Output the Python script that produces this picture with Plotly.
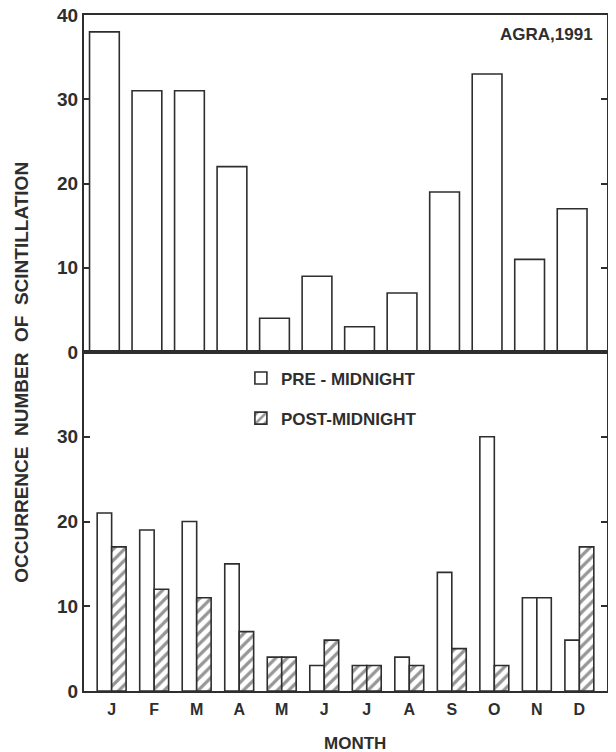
import plotly.graph_objects as go

# ---- data ----
month_labels = ["J", "F", "M", "A", "M", "J", "J", "A", "S", "O", "N", "D"]
month_pos = list(range(12))
total_counts = [38, 31, 31, 22, 4, 9, 3, 7, 19, 33, 11, 17]
pre_midnight = [21, 19, 20, 15, 4, 3, 3, 4, 14, 30, 11, 6]
post_midnight = [17, 12, 11, 7, 4, 6, 3, 3, 5, 3, 11, 17]
# hatch style of each drawn bar as it appears in the original figure
pre_hatch = ["", "", "", "", "/", "", "/", "", "", "", "", ""]
post_hatch = ["/", "/", "/", "/", "/", "/", "/", "/", "/", "/", "", "/"]
top_ticks = [0, 10, 20, 30, 40]
bottom_ticks = [0, 10, 20, 30]

INK = "#2e2e2e"
FONT = "Liberation Sans"

fig = go.Figure()

fig.add_trace(go.Bar(
    x=month_pos, y=total_counts, xaxis="x", yaxis="y",
    marker=dict(color="white", line=dict(color=INK, width=1.6)),
    showlegend=False, width=0.7,
))

fig.add_trace(go.Bar(
    x=month_pos, y=pre_midnight, xaxis="x2", yaxis="y2",
    name="PRE - MIDNIGHT", legendgroup="pre",
    marker=dict(color="white", line=dict(color=INK, width=1.6),
                pattern=dict(shape=pre_hatch, fgcolor=INK, bgcolor="white",
                             size=8, solidity=0.4)),
    offsetgroup="pre",
))
fig.add_trace(go.Bar(
    x=month_pos, y=post_midnight, xaxis="x2", yaxis="y2",
    name="POST-MIDNIGHT", legendgroup="post",
    marker=dict(color="white", line=dict(color=INK, width=1.6),
                pattern=dict(shape=post_hatch, fgcolor=INK, bgcolor="white",
                             size=8, solidity=0.4)),
    offsetgroup="post",
))

axis_common = dict(showline=True, linecolor=INK, linewidth=2, mirror="ticks",
                   showgrid=False, zeroline=False, automargin=False)

split = 339 / 676

fig.update_layout(
    width=608, height=744,
    margin=dict(l=76, r=9, t=7, b=61),
    paper_bgcolor="white", plot_bgcolor="white",
    barmode="group", bargap=0.32, bargroupgap=0,
    font=dict(family=FONT, color=INK, size=16, weight="bold"),
    xaxis=dict(domain=[0, 1], anchor="y", range=[-0.65, 11.65],
               showticklabels=False, ticks="", matches="x2", **axis_common),
    yaxis=dict(domain=[split, 1], anchor="x", range=[0, 40],
               tickvals=top_ticks, ticks="inside", ticklen=6, tickwidth=1.5,
               tickcolor=INK, ticklabelstandoff=0, ticklabeloverflow="allow",
               tickfont=dict(size=19, weight="bold"), **axis_common),
    xaxis2=dict(domain=[0, 1], anchor="y2", range=[-0.65, 11.65],
                tickvals=month_pos, ticktext=month_labels, ticks="",
                tickfont=dict(size=16, weight="bold"), ticklabelstandoff=3,
                **axis_common),
    yaxis2=dict(domain=[0, split], anchor="x2", range=[0, 40],
                tickvals=bottom_ticks, ticks="inside", ticklen=6, tickwidth=1.5,
                tickcolor=INK, ticklabelstandoff=0, ticklabeloverflow="allow",
                tickfont=dict(size=19, weight="bold"), **axis_common),
    legend=dict(x=0.30, y=0.489, xanchor="left", yanchor="top",
                bgcolor="rgba(0,0,0,0)", font=dict(size=17, weight="bold"),
                traceorder="grouped", tracegroupgap=15,
                itemwidth=30),
    annotations=[
        dict(text="AGRA,1991", xref="paper", yref="paper", x=0.978, y=0.971,
             xanchor="right", yanchor="middle", showarrow=False,
             font=dict(size=17, weight="bold")),
        dict(text="OCCURRENCE  NUMBER  OF  SCINTILLATION", xref="paper",
             yref="paper", x=-0.119, y=0.472, textangle=-90,
             xanchor="center", yanchor="middle", showarrow=False,
             font=dict(size=19, weight="bold")),
        dict(text="MONTH", xref="paper", yref="paper", x=0.518, y=-0.077,
             xanchor="center", yanchor="middle", showarrow=False,
             font=dict(size=17, weight="bold")),
    ],
)

fig.write_html("out.html")
